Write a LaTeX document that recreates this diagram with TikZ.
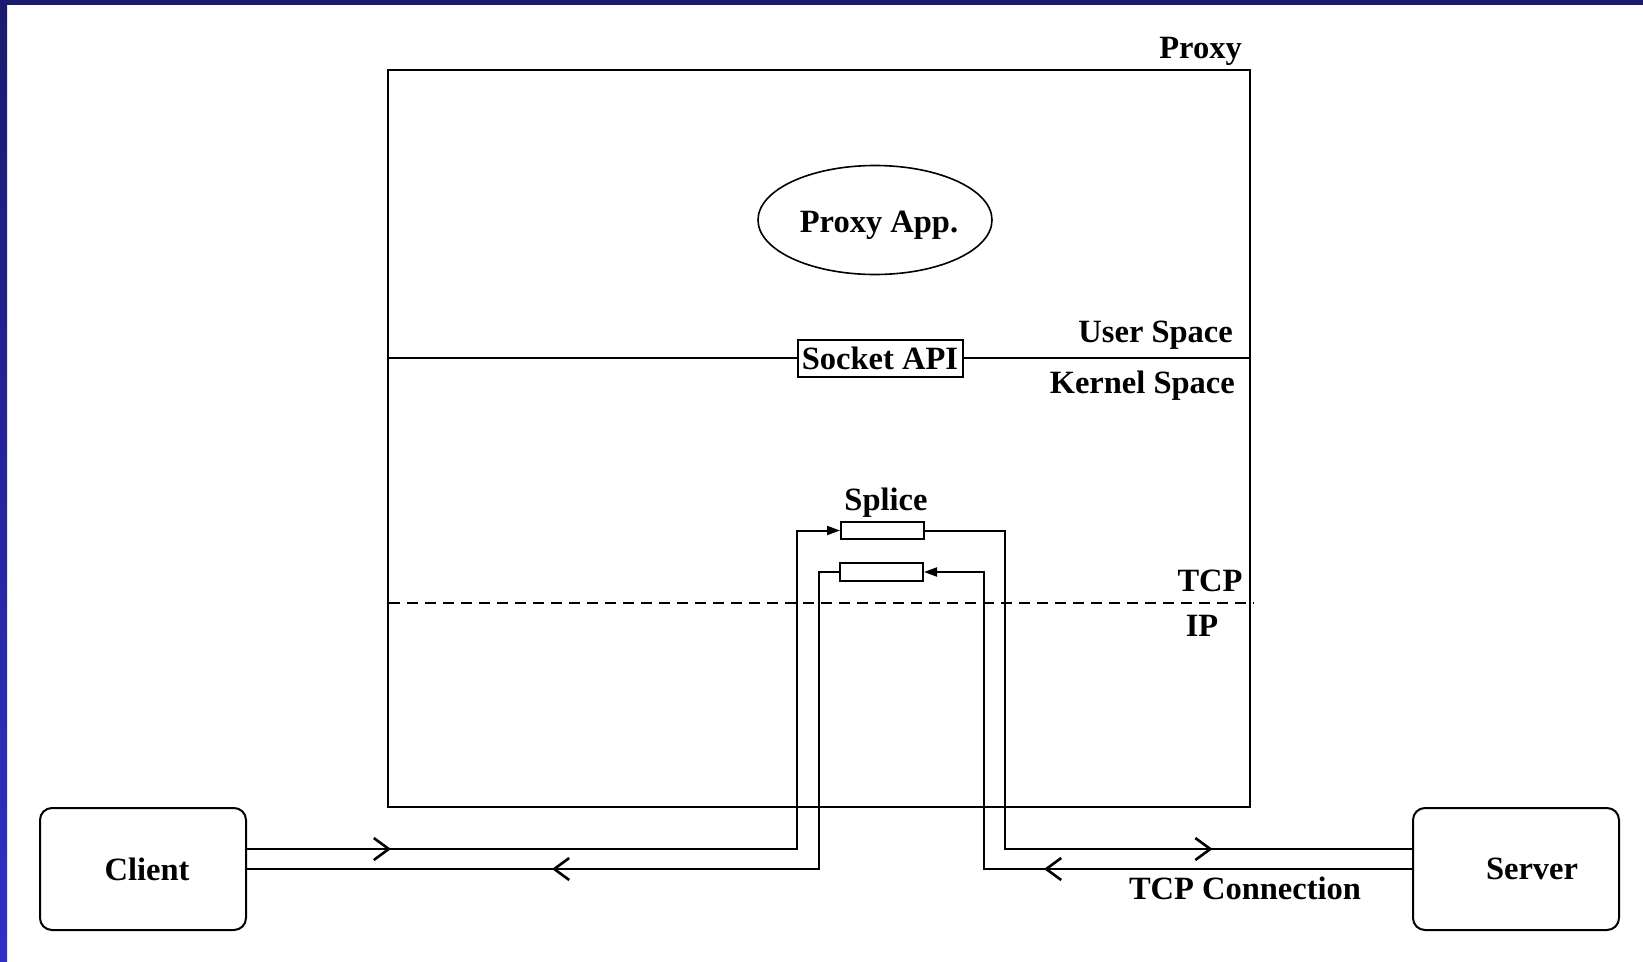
\documentclass[tikz,border=0pt]{standalone}
\usepackage{fontspec}
\setmainfont{Liberation Serif}
\usetikzlibrary{arrows.meta,decorations.markings,shapes.geometric}
\definecolor{framenavy}{RGB}{26,26,112}
\definecolor{frameblue}{RGB}{48,48,200}
\tikzset{
  txt/.style={font=\bfseries\fontsize{32.5}{39}\selectfont, inner sep=0pt},
  wire/.style={line width=2pt, line join=miter},
  hostbox/.style={draw, line width=2pt, rounded corners=12pt, minimum width=206pt, minimum height=122pt, inner sep=0pt},
  splicebox/.style={draw, line width=2pt, minimum width=83pt, minimum height=17pt, inner sep=0pt},
  filledtip/.style={-{Triangle[length=13pt,width=9pt]}},
  barbat/.style={postaction={decorate, decoration={markings,
      mark=at position #1 with {\arrow{Straight Barb[length=15pt,width=22pt,line width=2.6pt]}}}}}
}
\begin{document}
\begin{tikzpicture}[x=1pt,y=-1pt]
\useasboundingbox (0,0) rectangle (1643,961);
\fill[white] (0,0) rectangle (1643,961);
% window frame
\shade[top color=framenavy, bottom color=frameblue] (0,0) rectangle (7,961);
\fill[framenavy] (0,0) rectangle (1643,5);

% proxy host
\node[draw, line width=2pt, minimum width=862pt, minimum height=737pt, inner sep=0pt] (proxy) at (819,438.5) {};
\node[txt, anchor=base east] (proxylbl) at (1242,58.5) {Proxy};

% application
\node[ellipse, draw, line width=1.6pt, minimum width=234pt, minimum height=109pt, inner sep=0pt] (app) at (875,220) {};
\node[txt] (applbl) at (879,225) {Proxy App.};

% user/kernel boundary
\node[txt, draw, line width=2pt, minimum width=165pt, minimum height=37pt] (socket) at (880,358) {Socket API};
\draw[wire] (proxy.west |- socket.west) -- (socket.west);
\draw[wire] (socket.east) -- (proxy.east |- socket.east);
\node[txt, anchor=base east] (userlbl) at (1233,342.5) {User Space};
\node[txt, anchor=base east] (kernlbl) at (1235,393) {Kernel Space};

% TCP/IP boundary
\coordinate (tcpw) at (389,603);
\coordinate (tcpe) at (1254,603);
\draw[wire, dash pattern=on 11pt off 7pt] (tcpw) -- (tcpe);
\node[txt, anchor=base] (tcplbl) at (1210,591) {TCP};
\node[txt, anchor=base] (iplbl) at (1202,636) {IP};

% splice
\node[txt, anchor=base] (splicelbl) at (886,510) {Splice};
\node[splicebox] (sp1) at (882.5,530.5) {};
\node[splicebox, minimum height=18pt] (sp2) at (881.5,572) {};

% end hosts
\node[hostbox] (client) at (143,869) {};
\node[txt] (clientlbl) at (147,869) {Client};
\node[hostbox] (server) at (1516,869) {};
\node[txt] (serverlbl) at (1532,869) {Server};
\node[txt, anchor=base] (conn) at (1245,899) {TCP Connection};

% client side
\draw[wire, filledtip, barbat=144pt] ([yshift=20pt]client.east) -| ([xshift=-43pt]sp1.west) -- (sp1.west);
\draw[wire, barbat=584pt] (sp2.west) -- ([xshift=-20pt]sp2.west) |- (client.east);
% server side
\draw[wire, barbat=606pt] (sp1.east) -- ([xshift=80pt]sp1.east) |- ([yshift=20pt]server.west);
\draw[wire, filledtip, barbat=368pt] (server.west) -| ([xshift=60pt]sp2.east) -- (sp2.east);
\end{tikzpicture}
\end{document}
